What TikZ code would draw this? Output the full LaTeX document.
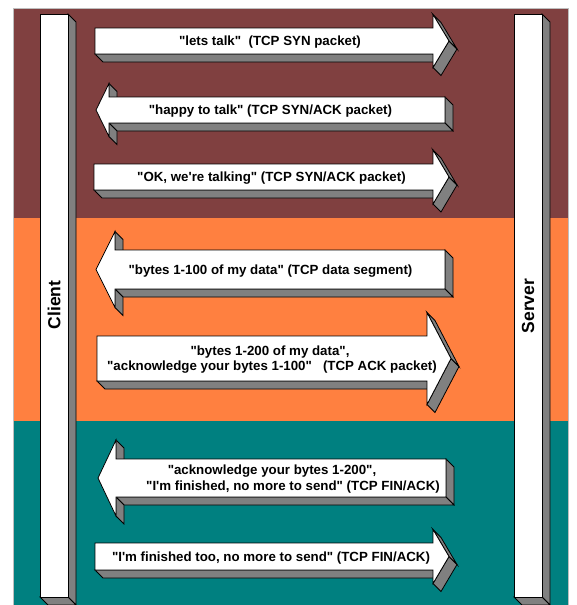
\documentclass[tikz,border=0pt]{standalone}
\usepackage{fontspec}
\setmainfont{Liberation Sans}[Ligatures=TeXOff]
\definecolor{brownbg}{RGB}{128,64,64}
\definecolor{orangebg}{RGB}{255,128,64}
\definecolor{tealbg}{RGB}{0,128,128}
\definecolor{sidegray}{RGB}{128,128,128}
\definecolor{framegray}{RGB}{190,190,190}
\tikzset{
  face/.style={fill=sidegray, draw=black, line width=0.8},
  front/.style={fill=white, draw=black, line width=0.8},
  lbl/.style={font=\fontsize{13.3}{15}\selectfont\bfseries, inner sep=0pt},
  colname/.style={font=\fontsize{17.5}{20}\selectfont\bfseries, inner sep=0pt, rotate=90},
}
% right arrow: body left x, head base x, centre y, body half height, head half height, tip x
\newcommand\RArrow[6]{%
  \filldraw[face] ({#1},{#3+#4}) -- ({#2},{#3+#4}) -- ({#2+8},{#3+#4+8}) -- ({#1+8},{#3+#4+8}) -- cycle;
  \filldraw[face] ({#6},{#3}) -- ({#2},{#3+#5}) -- ({#2+8},{#3+#5+8}) -- ({#6+8},{#3+8}) -- cycle;
  \filldraw[face] ({#2},{#3-#5}) -- ({#6},{#3}) -- ({#6+8},{#3+8}) -- ({#2+8},{#3-#5+8}) -- cycle;
  \filldraw[front] ({#1},{#3-#4}) -- ({#2},{#3-#4}) -- ({#2},{#3-#5}) -- ({#6},{#3}) -- ({#2},{#3+#5}) -- ({#2},{#3+#4}) -- ({#1},{#3+#4}) -- cycle;
}
% left arrow: body right x, head base x, centre y, body half height, head half height, tip x
\newcommand\LArrow[6]{%
  \filldraw[face] ({#2},{#3-#5}) -- ({#2},{#3-#4}) -- ({#2+8},{#3-#4+8}) -- ({#2+8},{#3-#5+8}) -- cycle;
  \filldraw[face] ({#1},{#3-#4}) -- ({#1},{#3+#4}) -- ({#1+8},{#3+#4+8}) -- ({#1+8},{#3-#4+8}) -- cycle;
  \filldraw[face] ({#2},{#3+#4}) -- ({#1},{#3+#4}) -- ({#1+8},{#3+#4+8}) -- ({#2+8},{#3+#4+8}) -- cycle;
  \filldraw[face] ({#2},{#3+#4}) -- ({#2},{#3+#5}) -- ({#2+8},{#3+#5+8}) -- ({#2+8},{#3+#4+8}) -- cycle;
  \filldraw[front] ({#1},{#3-#4}) -- ({#2},{#3-#4}) -- ({#2},{#3-#5}) -- ({#6},{#3}) -- ({#2},{#3+#5}) -- ({#2},{#3+#4}) -- ({#1},{#3+#4}) -- cycle;
}
% column: left x, right x, top y, bottom y
\newcommand\Column[4]{%
  \filldraw[face] ({#2},{#3}) -- ({#2+8},{#3+8}) -- ({#2+8},{#4+8}) -- ({#2},{#4}) -- cycle;
  \filldraw[face] ({#1},{#4}) -- ({#2},{#4}) -- ({#2+8},{#4+8}) -- ({#1+8},{#4+8}) -- cycle;
  \filldraw[front] ({#1},{#3}) rectangle ({#2},{#4});
}
\begin{document}
\begin{tikzpicture}[x=1pt,y=-1pt]
\useasboundingbox (0,0) rectangle (577,605);
% background bands
\fill[brownbg] (13,8) rectangle (568,218);
\fill[orangebg] (13,218) rectangle (568,421);
\fill[tealbg] (13,421) rectangle (568,606);
\draw[framegray, line width=1] (13,606) -- (13,8) -- (568,8) -- (568,606);
% columns
\Column{40}{68}{14}{597}
\Column{514}{542}{14}{597}
\node[colname] (client) at (54,305) {Client};
\node[colname] (server) at (528,306) {Server};
% arrows
\RArrow{95}{433}{41}{13}{26.5}{449}
\LArrow{445}{109}{110}{13}{26.5}{96}
\RArrow{94}{433}{177}{13}{27}{449}
\LArrow{445}{115}{269.5}{19.5}{38}{96}
\RArrow{97}{427}{358.5}{22.5}{46}{451}
\LArrow{446}{116}{478}{19}{38}{98}
\RArrow{95}{433}{556.5}{13.5}{27}{449}
% labels
\node[lbl, anchor=base] (m1) at (270,45.5) {"lets talk"~~(TCP SYN packet)};
\node[lbl, anchor=base] (m2) at (270.5,114.5) {"happy to talk" (TCP SYN/ACK packet)};
\node[lbl, anchor=base] (m3) at (271.5,181.5) {"OK, we're talking" (TCP SYN/ACK packet)};
\node[lbl, anchor=base] (m4) at (270.5,274) {"bytes 1-100 of my data" (TCP data segment)};
\node[lbl, anchor=base] (m5a) at (270,355.5) {"bytes 1-200 of my data",};
\node[lbl, anchor=base] (m5b) at (272,370.5) {"acknowledge your bytes 1-100"~~~(TCP ACK packet)};
\node[lbl, anchor=base] (m6a) at (272,474.5) {"acknowledge your bytes 1-200",};
\node[lbl, anchor=base] (m6b) at (293,490.5) {"I'm finished, no more to send" (TCP FIN/ACK)};
\node[lbl, anchor=base] (m7) at (271,561.5) {"I'm finished too, no more to send" (TCP FIN/ACK)};
\end{tikzpicture}
\end{document}
